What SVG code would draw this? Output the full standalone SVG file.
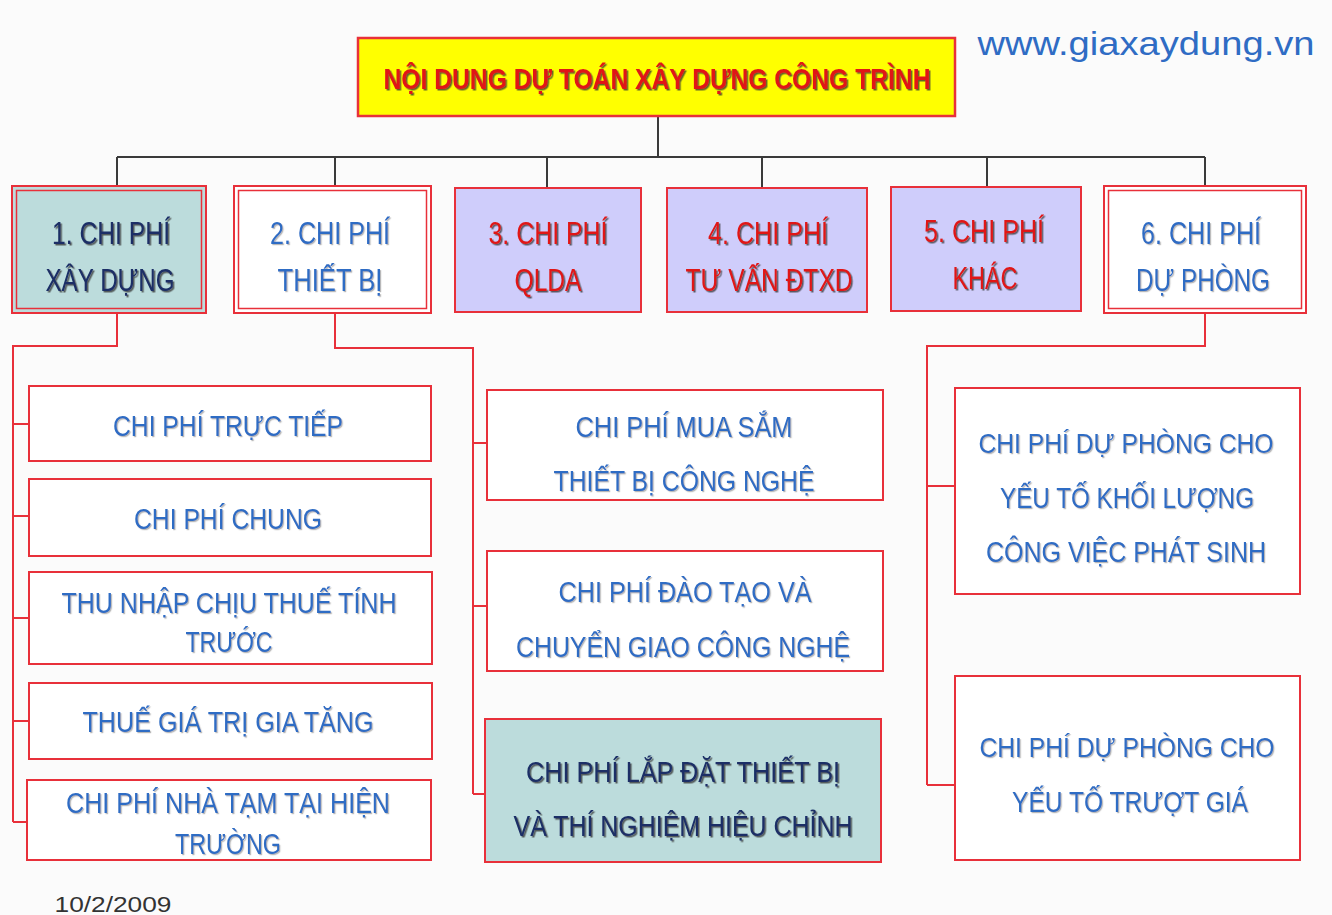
<svg xmlns="http://www.w3.org/2000/svg" width="1332" height="915" viewBox="0 0 1332 915">
<defs>
<filter id="sh" x="-5%" y="-20%" width="110%" height="140%">
<feDropShadow dx="1.5" dy="1.5" stdDeviation="0.6" flood-color="#333" flood-opacity="0.75"/>
</filter>
<filter id="sl" x="-5%" y="-20%" width="110%" height="140%">
<feDropShadow dx="1.2" dy="1.2" stdDeviation="0.6" flood-color="#888" flood-opacity="0.6"/>
</filter>
</defs>
<style>
text{font-family:"Liberation Sans Narrow","Liberation Sans",Arial,sans-serif;text-anchor:middle}
.box{stroke:#e8303a;stroke-width:2}
.inner{fill:none;stroke:#e8303a;stroke-width:1.5}
.w{fill:#ffffff}
.teal{fill:#bcdcdc}
.lav{fill:#cfcdfb}
.blue{fill:#2f6cc4;font-size:30px;filter:url(#sl)}
.blue1{fill:#2f6cc4;font-size:31px;filter:url(#sl)}
.bluen{fill:#2f6cc4;font-size:28px;filter:url(#sl)}
.red{fill:#e01818;font-size:31px;filter:url(#sh)}
.navy{fill:#1a2f66;font-size:31px;filter:url(#sh)}
.navy2{fill:#1a2f66;font-size:30px;filter:url(#sh)}
.conTop{stroke:#3a3a3a;stroke-width:2;fill:none}
.conRed{stroke:#e8303a;stroke-width:2;fill:none}
</style>
<rect width="1332" height="915" fill="#fbfbfb"/>

<g id="connectors">
<path class="conTop" d="M658 116V157M117 157H1205M117 157V187M335 157V187M547 157V188M762 157V188M987 157V187M1205 157V187"/>
<path class="conRed" d="M117 313V346H13V822M13 424H29M13 516H29M13 618H29M13 721H29M13 822H27"/>
<path class="conRed" d="M335 313V348H473V794M473 443H487M473 606H487M473 794H485"/>
<path class="conRed" d="M1205 313V346H927V785M927 486H955M927 785H955"/>
</g>

<g id="title">
<rect x="358" y="38" width="597" height="78" fill="#ffff00" stroke="#e8303a" stroke-width="2.5"/>
<text x="657" y="89" class="red" font-weight="bold" style="font-size:30px" textLength="547" lengthAdjust="spacingAndGlyphs">NỘI DUNG DỰ TOÁN XÂY DỰNG CÔNG TRÌNH</text>
</g>

<g id="website">
<text x="1146" y="55" style="text-anchor:middle;font-family:'Liberation Sans',Arial,sans-serif;font-size:33px;fill:#2f6cc4" textLength="337" lengthAdjust="spacingAndGlyphs">www.giaxaydung.vn</text>
</g>

<g id="n1">
<rect x="12" y="186" width="194" height="127" class="box teal"/>
<rect x="16.5" y="190.5" width="185" height="118" class="inner"/>
<text x="111" y="244" class="navy" textLength="118" lengthAdjust="spacingAndGlyphs">1. CHI PHÍ</text>
<text x="110" y="291" class="navy" textLength="129" lengthAdjust="spacingAndGlyphs">XÂY DỰNG</text>
</g>

<g id="n2">
<rect x="234" y="186" width="197" height="127" class="box w"/>
<rect x="238.5" y="190.5" width="188" height="118" class="inner"/>
<text x="330" y="244" class="blue1" textLength="120" lengthAdjust="spacingAndGlyphs">2. CHI PHÍ</text>
<text x="330" y="291" class="blue1" textLength="105" lengthAdjust="spacingAndGlyphs">THIẾT BỊ</text>
</g>

<g id="n3">
<rect x="455" y="188" width="186" height="124" class="box lav"/>
<text x="548" y="244" class="red" textLength="119" lengthAdjust="spacingAndGlyphs">3. CHI PHÍ</text>
<text x="548" y="291" class="red" textLength="67" lengthAdjust="spacingAndGlyphs">QLDA</text>
</g>

<g id="n4">
<rect x="667" y="188" width="200" height="124" class="box lav"/>
<text x="768" y="244" class="red" textLength="120" lengthAdjust="spacingAndGlyphs">4. CHI PHÍ</text>
<text x="769" y="291" class="red" textLength="167" lengthAdjust="spacingAndGlyphs">TƯ VẤN ĐTXD</text>
</g>

<g id="n5">
<rect x="891" y="187" width="190" height="124" class="box lav"/>
<text x="984" y="242" class="red" textLength="120" lengthAdjust="spacingAndGlyphs">5. CHI PHÍ</text>
<text x="985" y="289" class="red" textLength="65" lengthAdjust="spacingAndGlyphs">KHÁC</text>
</g>

<g id="n6">
<rect x="1104" y="186" width="202" height="127" class="box w"/>
<rect x="1108.5" y="190.5" width="193" height="118" class="inner"/>
<text x="1201" y="244" class="blue1" textLength="120" lengthAdjust="spacingAndGlyphs">6. CHI PHÍ</text>
<text x="1203" y="291" class="blue1" textLength="134" lengthAdjust="spacingAndGlyphs">DỰ PHÒNG</text>
</g>

<g id="c1a">
<rect x="29" y="386" width="402" height="75" class="box w"/>
<text x="228" y="436" class="blue" textLength="230" lengthAdjust="spacingAndGlyphs">CHI PHÍ TRỰC TIẾP</text>
</g>
<g id="c1b">
<rect x="29" y="479" width="402" height="77" class="box w"/>
<text x="228" y="529" class="blue" textLength="188" lengthAdjust="spacingAndGlyphs">CHI PHÍ CHUNG</text>
</g>
<g id="c1c">
<rect x="29" y="572" width="403" height="92" class="box w"/>
<text x="229" y="613" class="blue" textLength="335" lengthAdjust="spacingAndGlyphs">THU NHẬP CHỊU THUẾ TÍNH</text>
<text x="229" y="652" class="blue" textLength="87" lengthAdjust="spacingAndGlyphs">TRƯỚC</text>
</g>
<g id="c1d">
<rect x="29" y="683" width="403" height="76" class="box w"/>
<text x="228" y="732" class="blue" textLength="291" lengthAdjust="spacingAndGlyphs">THUẾ GIÁ TRỊ GIA TĂNG</text>
</g>
<g id="c1e">
<rect x="27" y="780" width="404" height="80" class="box w"/>
<text x="228" y="813" class="blue" textLength="324" lengthAdjust="spacingAndGlyphs">CHI PHÍ NHÀ TẠM TẠI HIỆN</text>
<text x="228" y="854" class="blue" textLength="106" lengthAdjust="spacingAndGlyphs">TRƯỜNG</text>
</g>

<g id="c2a">
<rect x="487" y="390" width="396" height="110" class="box w"/>
<text x="684" y="437" class="blue" textLength="217" lengthAdjust="spacingAndGlyphs">CHI PHÍ MUA SẮM</text>
<text x="684" y="491" class="blue" textLength="261" lengthAdjust="spacingAndGlyphs">THIẾT BỊ CÔNG NGHỆ</text>
</g>
<g id="c2b">
<rect x="487" y="551" width="396" height="120" class="box w"/>
<text x="685" y="602" class="blue" textLength="253" lengthAdjust="spacingAndGlyphs">CHI PHÍ ĐÀO TẠO VÀ</text>
<text x="683" y="657" class="blue" textLength="334" lengthAdjust="spacingAndGlyphs">CHUYỂN GIAO CÔNG NGHỆ</text>
</g>
<g id="c2c">
<rect x="485" y="719" width="396" height="143" class="box teal"/>
<text x="683" y="782" class="navy2" textLength="314" lengthAdjust="spacingAndGlyphs">CHI PHÍ LẮP ĐẶT THIẾT BỊ</text>
<text x="683" y="836" class="navy2" textLength="339" lengthAdjust="spacingAndGlyphs">VÀ THÍ NGHIỆM HIỆU CHỈNH</text>
</g>

<g id="c6a">
<rect x="955" y="388" width="345" height="206" class="box w"/>
<text x="1126" y="453" class="bluen" textLength="295" lengthAdjust="spacingAndGlyphs">CHI PHÍ DỰ PHÒNG CHO</text>
<text x="1127" y="508" class="blue" textLength="254" lengthAdjust="spacingAndGlyphs">YẾU TỐ KHỐI LƯỢNG</text>
<text x="1126" y="562" class="blue" textLength="280" lengthAdjust="spacingAndGlyphs">CÔNG VIỆC PHÁT SINH</text>
</g>
<g id="c6b">
<rect x="955" y="676" width="345" height="184" class="box w"/>
<text x="1127" y="757" class="bluen" textLength="295" lengthAdjust="spacingAndGlyphs">CHI PHÍ DỰ PHÒNG CHO</text>
<text x="1130" y="812" class="blue" textLength="236" lengthAdjust="spacingAndGlyphs">YẾU TỐ TRƯỢT GIÁ</text>
</g>

<g id="date">
<text x="113" y="912" style="font-family:'Liberation Sans',Arial,sans-serif;font-size:22px;fill:#333" textLength="117" lengthAdjust="spacingAndGlyphs">10/2/2009</text>
</g>
</svg>
